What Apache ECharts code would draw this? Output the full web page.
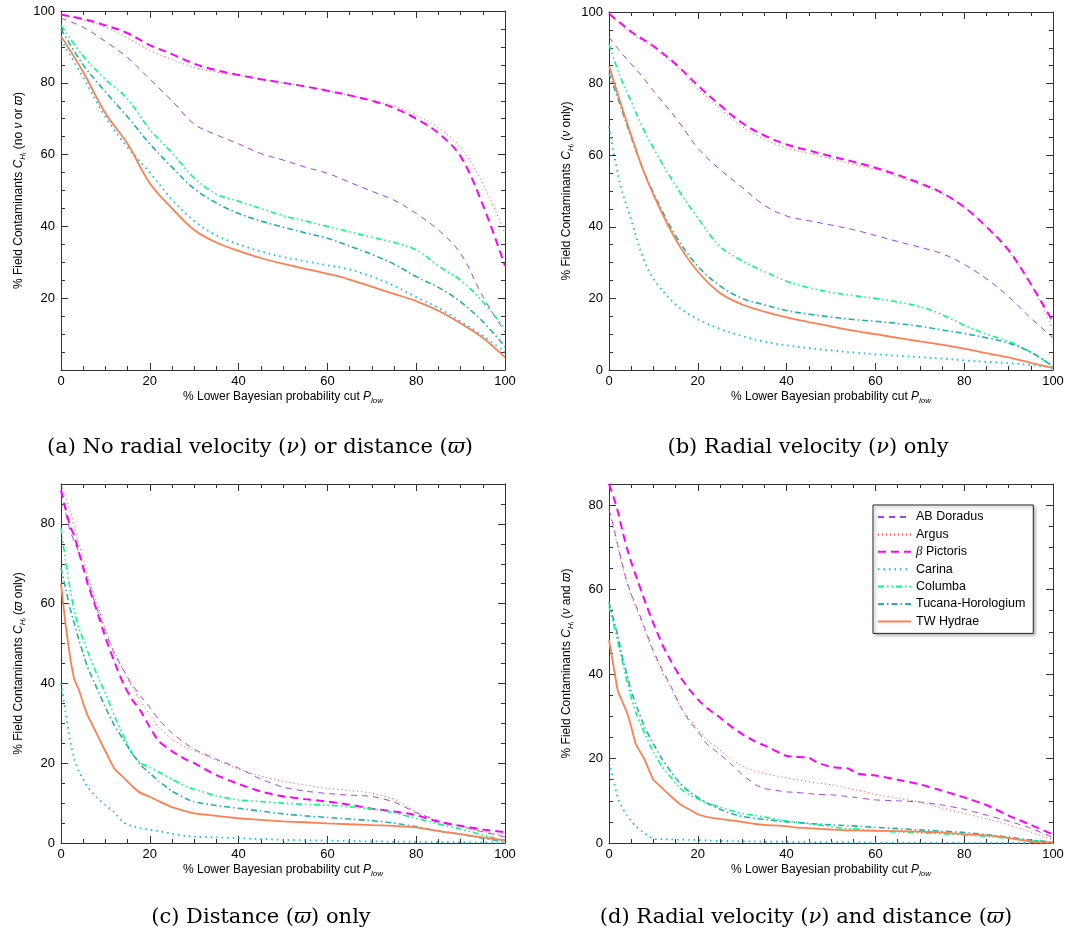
<!DOCTYPE html>
<html>
<head>
<meta charset="utf-8">
<script src="https://cdn.jsdelivr.net/npm/echarts@6/dist/echarts.min.js"></script>
<style>html,body{margin:0;padding:0;background:#fff}#c{width:1071px;height:939px}</style>
</head>
<body>
<div id="c"></div>
<script>
// ---------- DATA ----------
const groups = ['AB Doradus', 'Argus', 'β Pictoris', 'Carina', 'Columba', 'Tucana-Horologium', 'TW Hydrae'];

// Panel (a): no radial velocity or distance
const xA = [0,5,10,15,20,25,30,35,40,45,50,55,60,65,70,75,80,85,90,95,100];
const abA  = [98,95.5,91.5,87,81,75,68.5,65.5,63,60.3,58.5,56.5,54.8,52.3,49.8,47.3,43.6,39,32.5,20.5,10.5];
const arA  = [99,97.5,95.5,92.5,89,86.5,84.3,83,82,81,80,79,77.8,76.5,75.2,73.5,71,67.5,62,52,38];
const bpA  = [99,97.8,96,93.8,90.5,88,85.3,83.5,82.2,81,80,79,77.8,76.5,75,73,70,66,59.5,46,29];
const caA  = [92,81.5,70.5,62,55,47.5,41.5,37.5,35,33,31.5,30.3,29.2,28,26,23.5,20.3,17.3,13.5,9.5,5];
const coA  = [96,87.5,81,75.5,67,60.5,53.5,49,47,45,43,41.5,40,38.5,37,35.5,33.5,29,25,19,11.5];
const thA  = [95,85,77.5,70.5,63,56.5,50.5,46.5,43.6,41.5,39.8,38.2,36.7,34.5,32.2,29.5,26,23,19,13.5,6.5];
const twA  = [93,83,71.5,63,52,45,39,35.5,33.2,31.2,29.6,28.2,26.8,25.2,23.2,21.2,19.2,16.5,13,9,3.5];

// Panel (b): radial velocity only
const xB = [0,2.5,5,7.5,10,15,20,25,30,35,40,45,50,55,60,65,70,75,80,85,90,95,100];
const abB  = [93,89,85.5,82,78,70.5,62,56,51,46,43,41.7,40.5,39.2,37.6,35.9,34.3,32.5,29.5,25.5,20.5,14.5,9];
const arB  = [99.5,96.5,94,92,90,85,78.5,73,68,64.5,62,60.5,59,57.5,56,54,51.8,49.2,45.5,40,33,24,11.5];
const bpB  = [99.5,97,94.5,92.5,90.5,85.5,79.5,74,69,65.5,63,61.3,59.7,58.2,56.5,54.5,52.2,49.5,45.5,40,33.5,24,13.5];
const caB  = [68,52,42,32,25.5,18.3,14.2,11.5,9.5,7.9,6.9,6.1,5.5,4.9,4.4,4,3.6,3.2,2.7,2.3,1.9,1.4,0.7];
const coB  = [91,82,75,68,62,51.5,42.5,34.5,30.5,27.5,24.8,23,21.7,20.8,20,19,17.7,15.5,12.5,10,8,5,1];
const thB  = [83,74,65,56.5,49.5,37.5,29,23.5,20,18.2,16.6,15.6,14.8,14.1,13.6,13,12.2,11.2,10.2,9,7.5,5,1];
const twB  = [85,75,65.5,56.5,49,36.5,27.5,21.5,18.3,16.3,14.7,13.4,12.2,11,10,9,8,7.1,6,4.7,3.5,2,0.5];

// Panel (c): distance only
const xC = [0,1,2,3,4,5,6,8,10,12,14,16,18,20,22,25,28,30,35,40,45,50,55,60,65,70,75,80,85,90,95,100];
const abC  = [88,83,78.5,75.5,73,69.5,66,59,53,47.5,43.5,39.7,36.7,34,31,27.5,25,23.5,21,18.8,16,14,13,12.4,12,11.7,10.3,7.6,5.6,4.2,2.8,1.5];
const arC  = [90,87,83.5,79.5,75.5,71.5,67,60.5,53.5,48,43.4,39,35.5,32,29,26,24,23.2,20.7,18.5,16.8,15.5,14.5,13.7,13.2,12.5,11,7.8,5.4,4.2,2.9,1.9];
const bpC  = [88.5,84,79.5,77,73,69,65,58.5,51.5,45.5,40,36,33,29,25.5,23,21,20,17,14.8,12.9,11.7,11,10.4,9.6,8.6,7.9,7,5.3,4.3,3.4,2.7];
const caC  = [40,33,26,21,18,16,14,11.5,9.5,7.7,5.2,4.2,3.7,3.3,3,2.3,1.8,1.6,1.4,1.2,1,0.8,0.7,0.6,0.5,0.4,0.35,0.3,0.25,0.2,0.15,0.1];
const coC  = [79,71,64,58,54,51,48,42.5,37.5,32,27,22.5,20,19,17.8,16,14.2,13.5,11.8,10.8,10.4,10,9.7,9.5,9.1,8.5,7.6,6.2,4.8,3.5,2,0.5];
const thC  = [69,64,59,55,51,47.5,44,39,34,29.5,26,22.5,19.5,17.5,15.5,13,11.2,10.3,9.4,8.7,8,7.3,6.8,6.4,6,5.6,5,4.1,3,2.2,1.2,0.3];
const twC  = [65,55,47,41,38.5,35,32,27.5,23,18.7,16.5,14.3,12.5,11.6,10.5,9,8,7.4,6.8,6.2,5.8,5.4,5.2,4.9,4.7,4.5,4.3,3.9,3,2.2,1.4,0.7];

// Panel (d): radial velocity and distance
const xD = [0,1,2,3,4,5,6,8,10,12,14,16,18,20,22,25,28,30,33,35,40,42,45,47,50,54,56,60,65,70,75,80,85,90,95,100];
const abD  = [79,75,70.5,66,62,59,56.5,51,45.5,41,37,32.5,29,26.5,23.5,21,18.2,16.2,13.8,12.9,12.1,12,11.7,11.5,11.4,11,10.7,10.2,10,9.7,9,8,6.6,5.2,3.5,1.3];
const arD  = [78.5,74.5,70,65.5,62,58.5,56,50.5,45,40.5,36.5,32.5,29.5,27,24.5,22,19.5,18.2,17,16.5,15.4,15,14.5,14.2,13.8,12.9,12.5,11.5,10.6,9.7,8.3,7,5.7,4.3,2.6,0.8];
const bpD  = [85,82,78.5,74,70,66.5,63.5,57.5,52,47,43,39.4,36.5,34,32,29.7,27.2,25.8,24,23.1,20.6,20.4,20.2,19,18,17.6,16.4,16,15,13.9,12.4,10.8,9,6.5,4.3,2];
const caD  = [19,15,10.5,8.3,6.6,5.2,4,2.3,1,0.9,0.85,0.8,0.75,0.7,0.6,0.5,0.45,0.4,0.35,0.3,0.3,0.28,0.25,0.22,0.2,0.18,0.15,0.1,0.1,0.1,0.1,0.05,0.05,0.05,0,0];
const coD  = [56,52,47.5,43,38.5,34.5,31,26,21.5,18,15.5,13,11.5,10.5,9.5,8.5,7.5,7,6.5,6.2,5.2,5,4.5,4.3,3.8,3.4,3.3,2.9,2.6,2.4,2.2,1.9,1.6,1.1,0.6,0.2];
const thD  = [57,53,49,44,40,36,33,27.5,23.5,19.8,16.8,14.1,12.2,10.8,9.5,8,6.8,6.3,5.8,5.6,5,4.9,4.6,4.5,4.3,4.1,4,3.7,3.4,3.1,2.8,2.5,2,1.4,0.7,0.2];
const twD  = [48,42,36,33.5,31,27.5,23.5,19.8,15,13,11,9.2,8,6.8,6.2,5.7,5.3,5,4.5,4.3,4,3.7,3.5,3.4,3.2,3,3,2.9,2.8,2.7,2.5,2.1,1.8,1.2,0.3,0.1];

const yMaxes = [100, 100, 90, 85];
const yNameSuffix = ['(no {it|ν} or {it|ϖ})', '({it|ν} only)', '({it|ϖ} only)', '({it|ν} and {it|ϖ})'];
const captions = ['(a) No radial velocity ({i|ν}) or distance ({i|ϖ})', '(b) Radial velocity ({i|ν}) only',
                  '(c) Distance ({i|ϖ}) only', '(d) Radial velocity ({i|ν}) and distance ({i|ϖ})'];

// ---------- STYLE ----------
const SANS = '"Liberation Sans", Arial, Helvetica, sans-serif';
const SERIF = '"DejaVu Serif", "Liberation Serif", serif';
const styles = {
  'AB Doradus':        {color: '#a040f0', width: 1,   type: [6, 5]},
  'Argus':             {color: '#ff4040', width: 1,   type: [1, 3]},
  'β Pictoris':        {color: '#ff00ff', width: 2,   type: [8, 5]},
  'Carina':            {color: '#00bfff', width: 1.8, type: [1.5, 4]},
  'Columba':           {color: '#00ff7f', width: 1.6, type: [6, 3, 1.5, 3, 1.5, 3]},
  'Tucana-Horologium': {color: '#20b2aa', width: 1.6, type: [6, 3, 1.5, 3]},
  'TW Hydrae':         {color: '#ff7f50', width: 1.8, type: 'solid'}
};

const panels = [
  {x: xA, ys: [abA, arA, bpA, caA, coA, thA, twA]},
  {x: xB, ys: [abB, arB, bpB, caB, coB, thB, twB]},
  {x: xC, ys: [abC, arC, bpC, caC, coC, thC, twC]},
  {x: xD, ys: [abD, arD, bpD, caD, coD, thD, twD]}
];
const gridPos = [
  {left: 61, top: 11, width: 444, height: 359},
  {left: 609, top: 12, width: 444, height: 358},
  {left: 61, top: 484, width: 444, height: 359},
  {left: 609, top: 484, width: 444, height: 359}
];
const captionPos = [[260, 448], [808, 448], [261, 918], [806, 918]];
const smoothness = [0.35, 0.35, 0.15, 0.15];

const AX = '#333';
const grids = [], xAxes = [], yAxes = [], series = [];
const italic = {fontStyle: 'italic', fontFamily: SANS, fontSize: 12, lineHeight: 16, color: '#000'};
gridPos.forEach((g, i) => {
  grids.push(Object.assign({containLabel: false}, g));
  const common = {
    gridIndex: i, type: 'value',
    axisLine: {show: true, onZero: false, lineStyle: {color: AX, width: 1}},
    axisTick: {show: true, inside: true, length: 7, lineStyle: {color: AX}},
    minorTick: {show: true, splitNumber: 4, length: 4, lineStyle: {color: AX}},
    splitLine: {show: false}
  };
  xAxes.push(Object.assign({}, common, {
    position: 'bottom', min: 0, max: 100, interval: 20,
    axisLabel: {fontSize: 13, color: '#000', margin: 5, fontFamily: SANS},
    name: '% Lower Bayesian probability cut {it|P}{sub|low}',
    nameLocation: 'middle', nameGap: 14,
    nameTextStyle: {fontSize: 12, fontFamily: SANS, color: '#000', lineHeight: 16,
      rich: {it: italic, sub: {fontStyle: 'italic', fontFamily: SANS, fontSize: 8, lineHeight: 9, verticalAlign: 'bottom', color: '#000'}}}
  }));
  xAxes.push(Object.assign({}, common, {
    position: 'top', min: 0, max: 100, interval: 20, axisLabel: {show: false}
  }));
  yAxes.push(Object.assign({}, common, {
    position: 'left', min: 0, max: yMaxes[i], interval: 20,
    axisLabel: {fontSize: 13, color: '#000', margin: 6, fontFamily: SANS,
      showMinLabel: i !== 0, showMaxLabel: yMaxes[i] === 100},
    name: '% Field Contaminants {it|C}{sub|H}{ss|i} ' + yNameSuffix[i],
    nameLocation: 'middle', nameRotate: 90, nameGap: 34,
    nameTextStyle: {fontSize: 12, fontFamily: SANS, color: '#000', lineHeight: 16,
      rich: {it: italic,
             sub: {fontStyle: 'italic', fontFamily: SANS, fontSize: 8, lineHeight: 10, verticalAlign: 'bottom', color: '#000'},
             ss: {fontStyle: 'italic', fontFamily: SANS, fontSize: 6, lineHeight: 7, verticalAlign: 'bottom', color: '#000'}}}
  }));
  yAxes.push(Object.assign({}, common, {
    position: 'right', min: 0, max: yMaxes[i], interval: 20, axisLabel: {show: false}
  }));
  const p = panels[i];
  groups.forEach((name, k) => {
    const s = styles[name];
    series.push({
      type: 'line', name: name, xAxisIndex: 2 * i, yAxisIndex: 2 * i,
      data: p.x.map((xv, j) => [xv, p.ys[k][j]]),
      showSymbol: false, symbol: 'none', smooth: smoothness[i],
      lineStyle: {color: s.color, width: s.width, type: s.type},
      itemStyle: {color: s.color},
      animation: false, silent: true, z: 2
    });
  });
});

const graphic = captions.map((t, i) => ({
  type: 'text', x: captionPos[i][0], y: captionPos[i][1],
  style: {text: t, textAlign: 'center', textVerticalAlign: 'middle', fill: '#000',
    fontFamily: SERIF, fontSize: 21,
    rich: {i: {fontStyle: 'italic', fontFamily: SERIF, fontSize: 21, fill: '#000'}}}
}));

const chart = echarts.init(document.getElementById('c'), null, {renderer: 'canvas'});
chart.setOption({
  animation: false,
  backgroundColor: '#fff',
  grid: grids, xAxis: xAxes, yAxis: yAxes, series: series,
  graphic: graphic,
  legend: {
    data: groups, orient: 'vertical', left: 873, top: 505,
    itemWidth: 33, itemHeight: 10, itemGap: 3.4,
    padding: [5, 8, 5, 4],
    backgroundColor: '#fff', borderColor: '#222', borderWidth: 1,
    shadowColor: 'rgba(0,0,0,0.35)', shadowBlur: 3, shadowOffsetX: 2, shadowOffsetY: 2,
    itemStyle: {color: 'rgba(0,0,0,0)', borderColor: 'rgba(0,0,0,0)', borderWidth: 0, opacity: 0},
    textStyle: {fontSize: 12.5, fontFamily: SANS, color: '#000', lineHeight: 14,
      rich: {it: {fontStyle: 'italic', fontFamily: '"Liberation Serif", serif', fontSize: 13, color: '#000'}}},
    formatter: n => n === 'β Pictoris' ? '{it|β} Pictoris' : n,
    selectedMode: false
  }
});
</script>
</body>
</html>
